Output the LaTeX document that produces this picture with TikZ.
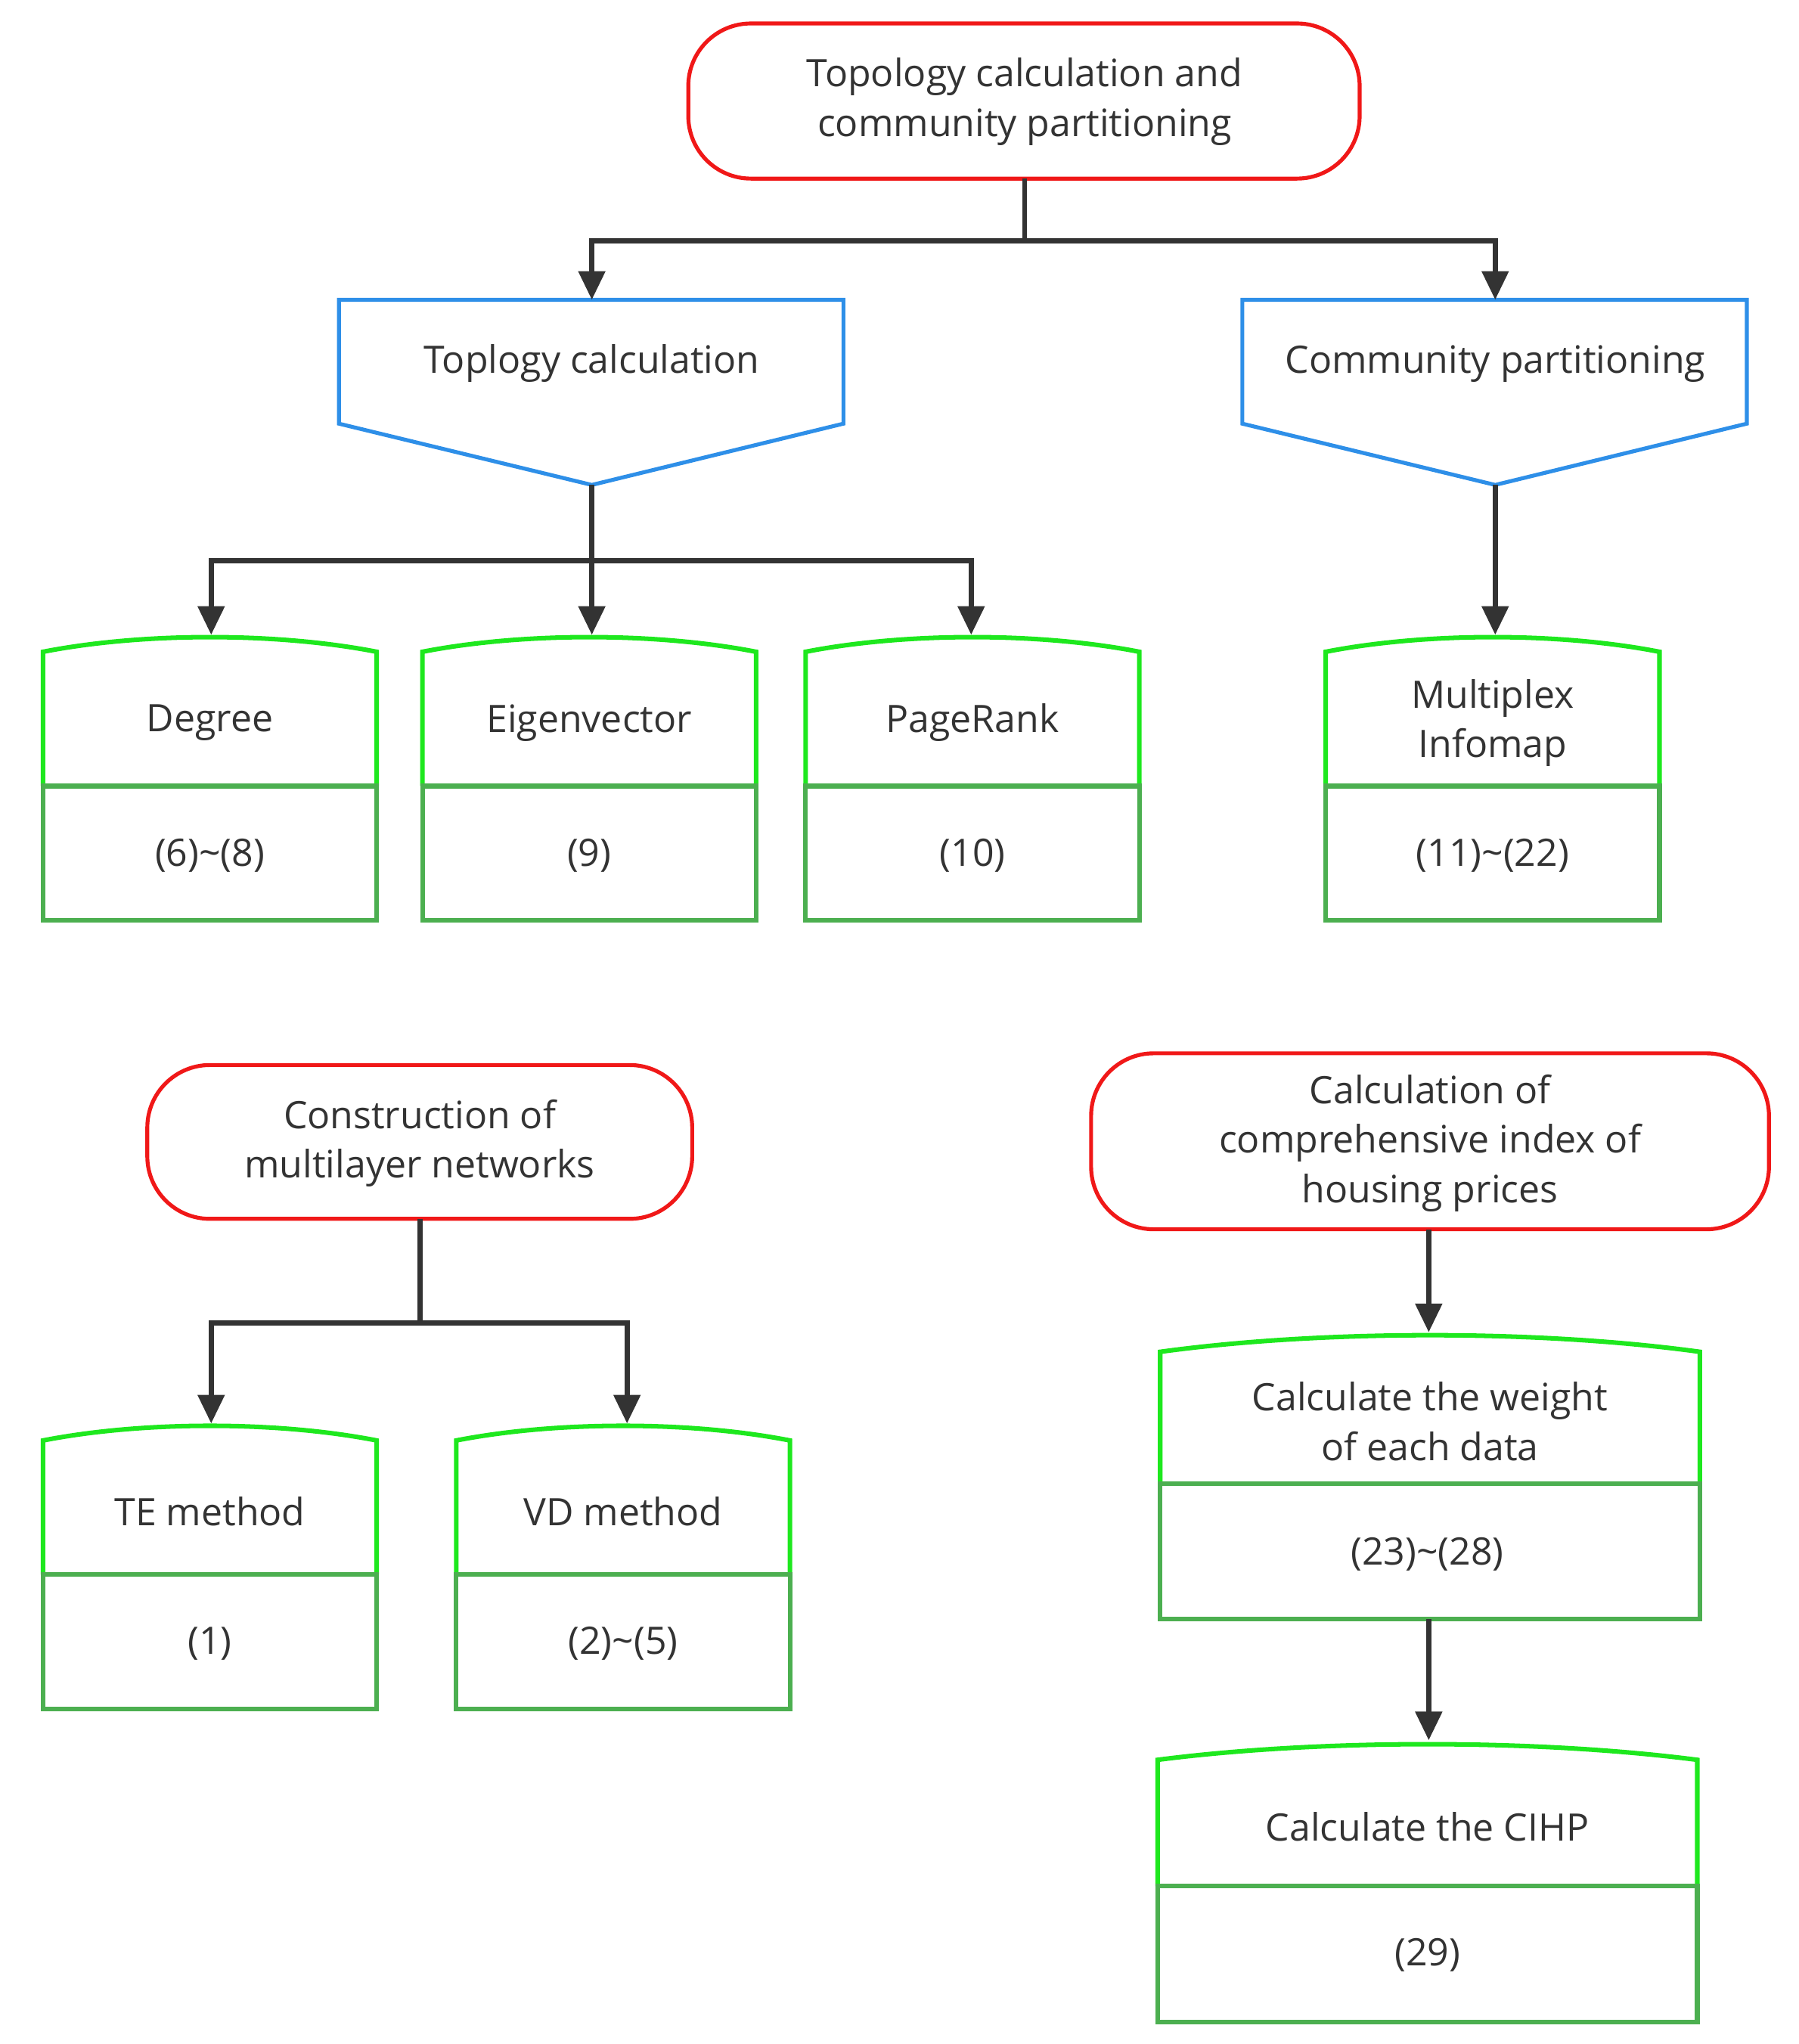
\documentclass[tikz,border=0pt]{standalone}
\usepackage{fontspec}
\setmainfont{Open Sans}
\usetikzlibrary{arrows.meta}
\definecolor{rd}{HTML}{F01818}
\definecolor{bl}{HTML}{2E8FE8}
\definecolor{gb}{HTML}{1EE81E}
\definecolor{gd}{HTML}{4CAF50}
\definecolor{ln}{HTML}{333333}
\tikzset{
 red box/.style={draw=rd,line width=3pt,rounded corners=48pt},
 conn/.style={draw=ln,line width=4pt},
 arr/.style={conn,-{Triangle[length=22pt,width=20pt]}},
 txt/.style={font=\fontsize{29}{38}\selectfont,text=ln,align=center,inner sep=0pt},
}
\newcommand\gbox[8]{%
 % #1 name, #2 x1, #3 x2, #4 ytop(edge), #5 ybulge, #6 ydiv, #7 ybot
 \draw[gb,line width=3.5pt] (#2,#6) -- (#2,#4) .. controls ({#2+(#3-#2)*0.3},#5) and ({#3-(#3-#2)*0.3},#5) .. (#3,#4) -- (#3,#6);
 \draw[gd,line width=3.5pt] (#2,#6) rectangle (#3,#7);
 \coordinate (#1) at ({(#2+#3)/2},#5);
 \node[txt] (#1t) at ({(#2+#3)/2},{(#4+#6)/2+3}) {#8};
}
\begin{document}
\begin{tikzpicture}[x=1pt,y=-1pt]
\useasboundingbox (0,0) rectangle (1380,1568);
% top
\draw[red box] (528,18) rectangle (1043,137);
\node[txt] (top) at (786,78) {Topology calculation and\\community partitioning};
\coordinate (topb) at (786,137);
% blue
\draw[bl,line width=3pt] (260,230) -- (647,230) -- (647,325) -- (454,372) -- (260,325) -- cycle;
\node[txt] (tc) at (454,279) {Toplogy calculation};
\coordinate (tcb) at (454,372); \coordinate (tct) at (454,230);
\draw[bl,line width=3pt] (953,230) -- (1340,230) -- (1340,325) -- (1147,372) -- (953,325) -- cycle;
\node[txt] (cp) at (1147,279) {Community partitioning};
\coordinate (cpb) at (1147,372); \coordinate (cpt) at (1147,230);
\draw[conn] (topb) -- (786,185);
\draw[arr] (786,185) -| (tct);
\draw[arr] (786,185) -| (cpt);
% green row 1
\gbox{deg}{33}{289}{500}{485}{603}{706}{Degree}
\node[txt] (degq) at (161,656) {(6)\textasciitilde(8)};
\gbox{eig}{324}{580}{500}{485}{603}{706}{Eigenvector}
\node[txt] (eigq) at (452,656) {(9)};
\gbox{pr}{618}{874}{500}{485}{603}{706}{PageRank}
\node[txt] (prq) at (746,656) {(10)};
\gbox{mi}{1017}{1273}{500}{485}{603}{706}{Multiplex\\Infomap}
\node[txt] (miq) at (1145,656) {(11)\textasciitilde(22)};
\draw[conn] (tcb) -- (454,430);
\draw[arr] (454,430) -| (162,487);
\draw[arr] (454,430) -- (454,487);
\draw[arr] (454,430) -| (745,487);
\draw[arr] (cpb) -- (1147,487);
% construction
\draw[red box] (113,817) rectangle (531,935);
\node[txt] (con) at (322,877) {Construction of\\multilayer networks};
\draw[conn] (322,935) -- (322,1015);
\draw[arr] (322,1015) -| (162,1092);
\draw[arr] (322,1015) -| (481,1092);
\gbox{te}{33}{289}{1105}{1090}{1208}{1311}{TE method}
\node[txt] (teq) at (161,1261) {(1)};
\gbox{vd}{350}{606}{1105}{1090}{1208}{1311}{VD method}
\node[txt] (vdq) at (478,1261) {(2)\textasciitilde(5)};
% CIHP
\draw[red box] (837,808) rectangle (1357,943);
\node[txt] (ci) at (1097,877) {Calculation of\\comprehensive index of\\housing prices};
\draw[arr] (1096,943) -- (1096,1022);
\gbox{w}{890}{1304}{1037}{1020}{1138}{1242}{Calculate the weight\\of each data}
\node[txt] (wq) at (1095,1192) {(23)\textasciitilde(28)};
\draw[arr] (1096,1242) -- (1096,1335);
\gbox{c}{888}{1302}{1350}{1334}{1447}{1551}{Calculate the CIHP}
\node[txt] (cq) at (1095,1500) {(29)};
\end{tikzpicture}
\end{document}
